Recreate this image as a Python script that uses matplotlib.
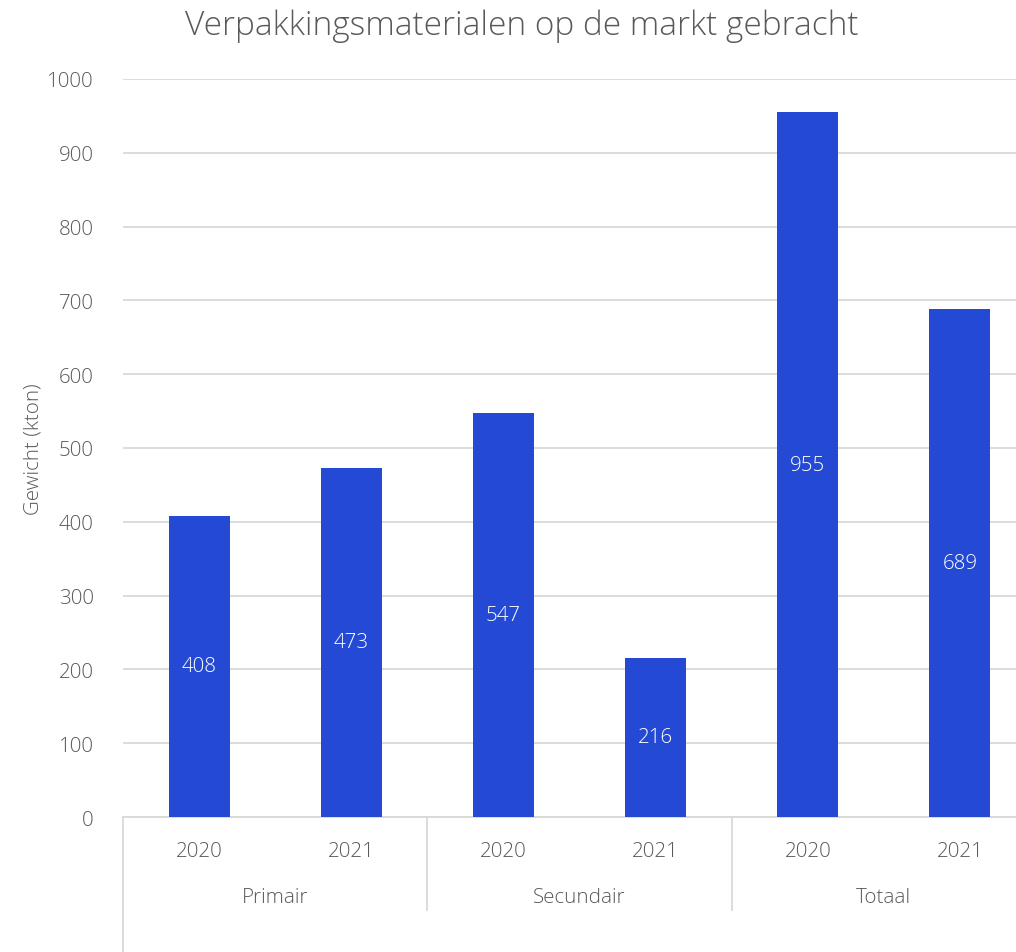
import numpy as np
import matplotlib.pyplot as plt
from matplotlib.lines import Line2D

groups = ['Primair', 'Secundair', 'Totaal']
years = ['2020', '2021']
values = [408, 473, 547, 216, 955, 689]

bar_color = '#2449D4'
text_color = '#595959'
grid_color = '#D9D9D9'
font = 'Open Sans'
fs = 14.8

plt.rcParams['font.family'] = [font, 'DejaVu Sans']

fig = plt.figure(figsize=(10.16, 9.53), dpi=100)
ax = fig.add_axes([123/1016, 1 - 818/953, 913/1016, 738/953])

x = np.arange(len(values))
ax.bar(x, values, width=0.4, color=bar_color, zorder=3)
for xi, v in zip(x, values):
    ax.text(xi, v/2, str(v), ha='center', va='center', color='white',
            fontsize=fs, fontweight='light', zorder=4)

ax.set_xlim(-0.5, len(values) - 0.5)
ax.set_ylim(0, 1000)
ax.set_yticks(np.arange(0, 1001, 100))
ax.yaxis.grid(True, color=grid_color, linewidth=1.3)
ax.set_axisbelow(True)
for s in ['top', 'right', 'left']:
    ax.spines[s].set_visible(False)
ax.spines['bottom'].set_color(grid_color)
ax.spines['bottom'].set_linewidth(1.3)
ax.tick_params(axis='y', length=0, pad=21, labelsize=fs, labelcolor=text_color)
ax.tick_params(axis='x', length=0, pad=17, labelsize=fs, labelcolor=text_color)
ax.set_xticks(x)
ax.set_xticklabels(years * len(groups))
for lab in ax.get_xticklabels() + ax.get_yticklabels():
    lab.set_fontweight('light')

ax.set_ylabel('Gewicht (kton)', fontsize=fs, color=text_color,
              fontweight='light', labelpad=3)
fig.text(522/1016, 1 - 26/953, 'Verpakkingsmaterialen op de markt gebracht',
         ha='center', va='center', fontsize=24, color=text_color, fontweight='light')

# group labels and separators below the axis
trans = ax.get_xaxis_transform()
for i, g in enumerate(groups):
    ax.text(2*i + 0.5, -80/738, g, transform=trans, ha='center', va='center',
            fontsize=fs, color=text_color, fontweight='light')
for b in [1.5, 3.5]:
    ax.add_line(Line2D([b, b], [0, -93/738], transform=trans, color=grid_color,
                       linewidth=1.3, clip_on=False))
ax.add_line(Line2D([-0.5, -0.5], [0, -140/738], transform=trans, color=grid_color,
                   linewidth=1.3, clip_on=False))

fig.savefig('out.png', dpi=100)
